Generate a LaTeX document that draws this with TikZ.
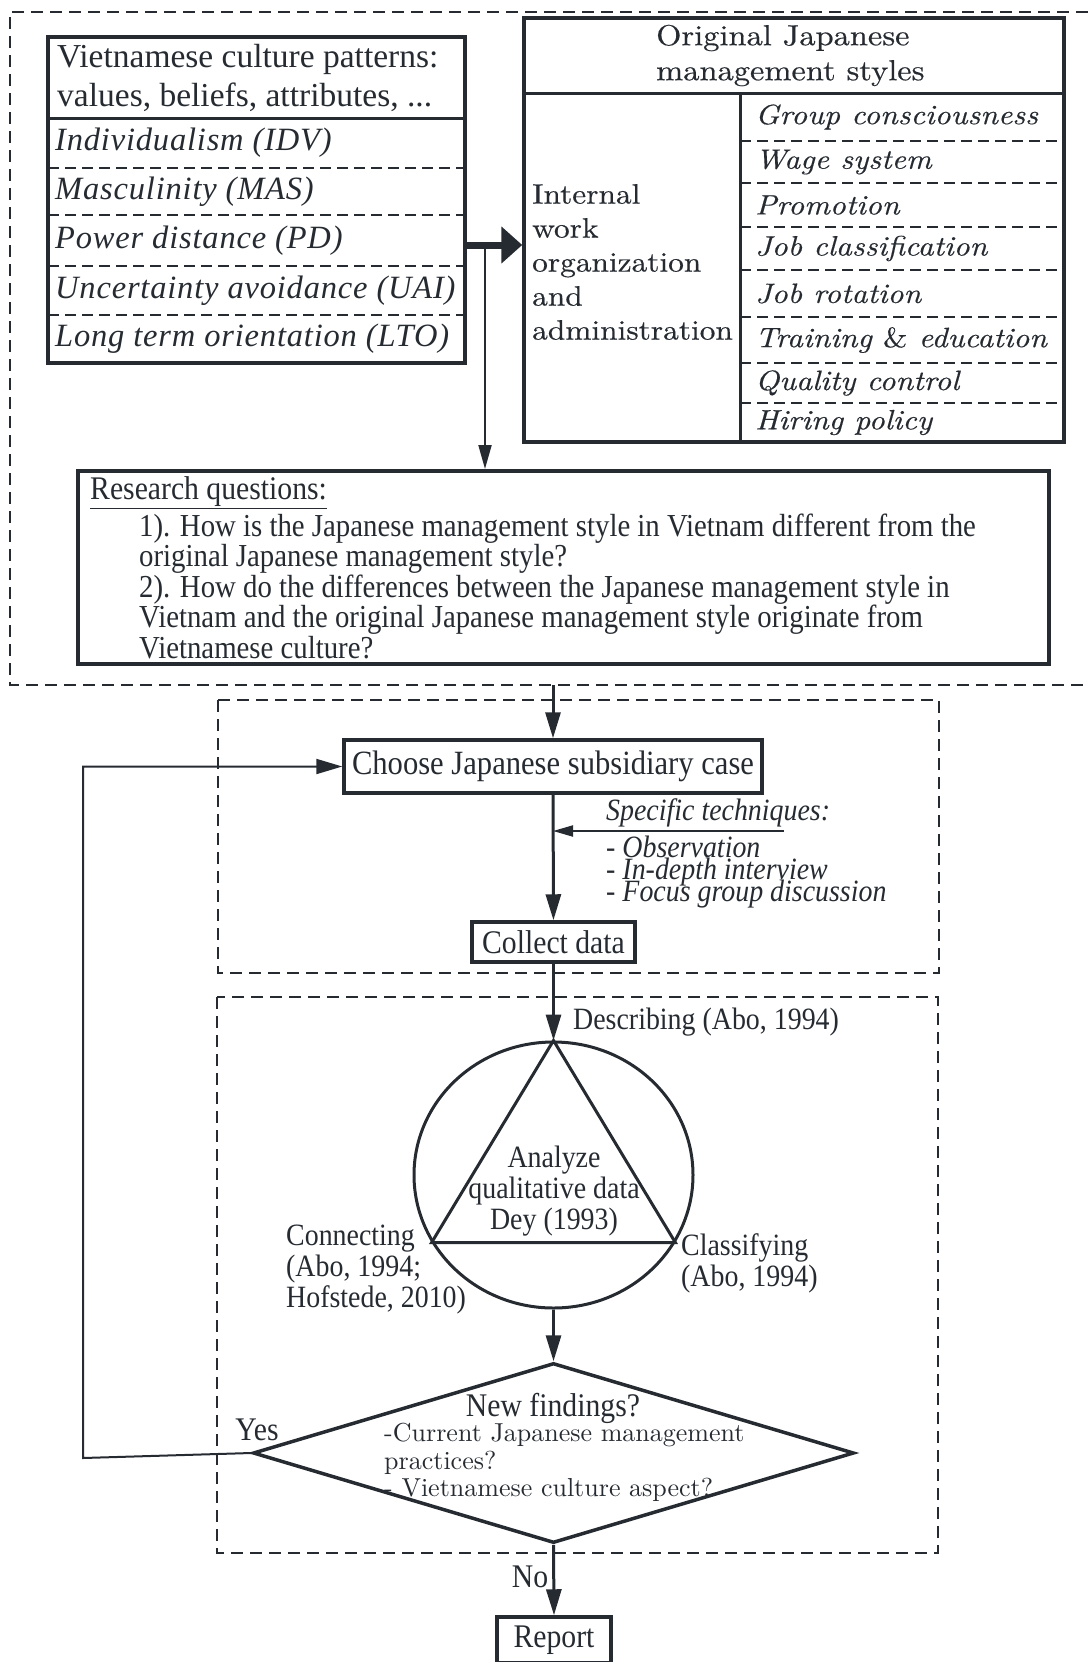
\documentclass[tikz,border=0pt]{standalone}
\usepackage{fontspec}
\setmainfont{Liberation Serif}
\newfontfamily\condfont{Liberation Serif}[FakeStretch=0.9]
\newfontfamily\dimfont{Liberation Serif}[LetterSpace=2.5]
\newfontfamily\jpfont{lmroman10}[Extension=.otf, UprightFont=*-regular, ItalicFont=*-italic, FakeStretch=1.12, FakeBold=0.4]
\newfontfamily\lmfont{lmroman10}[Extension=.otf, UprightFont=*-regular, ItalicFont=*-italic]
\usetikzlibrary{arrows.meta, shapes.geometric}
\definecolor{ink}{HTML}{262B32}
\setlength{\lineskiplimit}{-50pt}

\begin{document}
\begin{tikzpicture}[
    x=1pt, y=-1pt,
    frame/.style={draw=ink, line width=2pt, dash pattern=on 12pt off 7pt},
    box/.style={draw=ink, line width=3.5pt, inner sep=0pt, text=ink},
    rule/.style={draw=ink, line width=3pt},
    cell/.style={draw=ink, line width=2pt, dash pattern=on 11pt off 6pt},
    txt/.style={inner sep=0pt, text=ink, align=left},
    bodytext/.style={font=\condfont\fontsize{33}{36}\selectfont},
    notetext/.style={font=\condfont\fontsize{31}{31}\selectfont},
    arrow/.style={-{Triangle[length=26pt,width=15pt]}, line width=3pt, ink},
    backarrow/.style={-{Triangle[length=26pt,width=15pt]}, line width=2pt, ink},
    smallarrow/.style={-{Triangle[length=20pt,width=11pt]}, line width=2pt, ink},
    thinarrow/.style={-{Triangle[length=24pt,width=13pt]}, line width=2pt, ink},
    fatarrow/.style={-{Triangle[length=21pt,width=36pt]}, line width=7pt, ink}
]
    \useasboundingbox (0,0) rectangle (1088,1662);

    % Frames
    \draw[frame] (1088,12) -- (10,12) -- (10,685) -- (1088,685);
    \draw[frame] (218,700) rectangle (939,973);
    \draw[frame] (217,997) rectangle (938,1553);

    % Vietnamese culture patterns
    \node[box, minimum width=417pt, minimum height=326pt] (cult) at (256.5,200) {};
    \draw[rule] (48,118) -- (465,118);
    \foreach \yy in {168,215,266,315}
        \draw[cell] (48,\yy) -- (465,\yy);
    \node[txt, anchor=west, font=\fontsize{33.5}{39}\selectfont] (culthead) at (57,77.5) {Vietnamese culture patterns:\\values, beliefs, attributes, ...};
    \foreach \yy/\txt [count=\i] in {143/Individualism (IDV), 191.5/Masculinity (MAS), 240.5/Power distance (PD), 290.5/Uncertainty avoidance (UAI), 339/Long term orientation (LTO)}
        \node[txt, anchor=west, font=\dimfont\itshape\fontsize{32.5}{36}\selectfont] (dim\i) at (55,\yy) {\txt};

    % Original Japanese management styles
    \node[box, minimum width=540pt, minimum height=424pt] (jms) at (794,230) {};
    \draw[rule] (524,93) -- (1064,93);
    \draw[rule] (740,93) -- (740,442);
    \foreach \yy in {141,183,227,270,317,363,403}
        \draw[cell] (740,\yy) -- (1064,\yy);
    \node[txt, anchor=west, font=\jpfont\fontsize{29}{35}\selectfont] (jmshead) at (656,55.5) {Original Japanese\\management styles};
    \node[txt, anchor=west, font=\jpfont\fontsize{28}{34}\selectfont] (iwo) at (532,262) {Internal\\work\\organization\\and\\administration};
    \foreach \yy/\txt [count=\i] in {117/Group consciousness, 162/Wage system, 205/Promotion, 248.5/Job classification, 293.5/Job rotation, 340/Training {\upshape\&} education, 383/Quality control, 422.5/Hiring policy}
        \node[txt, anchor=west, font=\jpfont\itshape\fontsize{28}{30}\selectfont] (prac\i) at (755,\yy) {\txt};

    % Research questions
    \node[box, line width=4pt, minimum width=971pt, minimum height=193pt] (rq) at (563.5,567.5) {};
    \node[txt, anchor=west, bodytext] (rqhead) at (90,493) {\underline{Research questions:}};
    \node[txt, anchor=west, font=\condfont\fontsize{32}{30.5}\selectfont] (rqbody) at (139,586) {1). How is the Japanese management style in Vietnam different from the\\original Japanese management style?\\2). How do the differences between the Japanese management style in\\Vietnam and the original Japanese management style originate from\\Vietnamese culture?};

    % Case and data collection
    \node[box, minimum width=418pt, minimum height=53pt, font=\condfont\fontsize{34}{36}\selectfont] (choose) at (553,766.5) {Choose Japanese subsidiary case};
    \node[txt, anchor=west, font=\condfont\itshape\fontsize{31}{34}\selectfont] (tech) at (606,813) {Specific techniques:};
    \node[txt, anchor=west, font=\condfont\itshape\fontsize{31}{22}\selectfont] (techlist) at (606,872) {- Observation\\- In-depth interview\\- Focus group discussion};
    \node[box, minimum width=163pt, minimum height=40pt, bodytext] (collect) at (553.5,942) {Collect data};

    % Analysis
    \node[draw=ink, line width=3pt, ellipse, minimum width=279pt, minimum height=266pt, inner sep=0pt] (circ) at (553.5,1175) {};
    \draw[ink, line width=3pt] (circ.north) -- (circ.209) -- (circ.331) -- cycle;
    \node[txt, align=center, notetext] (analyze) at (554,1191) {Analyze\\qualitative data\\Dey (1993)};
    \node[txt, anchor=west, notetext] (describe) at (573,1022) {Describing (Abo, 1994)};
    \node[txt, anchor=west, notetext] (connect) at (286,1270) {Connecting\\(Abo, 1994;\\Hofstede, 2010)};
    \node[txt, anchor=west, notetext] (classify) at (681,1263) {Classifying\\(Abo, 1994)};

    % Decision and report
    \node[draw=ink, line width=3.5pt, diamond, minimum width=601pt, minimum height=180pt, inner sep=0pt] (decide) at (553.5,1453) {};
    \node[txt, bodytext] (findq) at (553,1408) {New findings?};
    \node[txt, anchor=west, font=\lmfont\fontsize{26}{27.5}\selectfont] (findlist) at (384,1462.5) {-Current Japanese management\\practices?\\- Vietnamese culture aspect?};
    \node[txt, bodytext] (yes) at (257,1430) {Yes};
    \node[txt, bodytext] (no) at (530,1577) {No};
    \node[box, minimum width=114pt, minimum height=46pt, bodytext] (report) at (554,1640) {Report};

    % Arrows
    \coordinate (fork) at (485,245);
    \coordinate (outbot) at (553,685);
    \coordinate (techend) at (784,831);
    \coordinate (yesturn) at (83,1458);
    \coordinate (yestop) at (83,766.5);
    \draw[fatarrow] (cult.east |- fork) -- (jms.west |- fork);
    \draw[thinarrow] (fork) -- (fork |- rq.north);
    \draw[arrow] (outbot) -- (choose.north);
    \draw[arrow] (choose) -- (collect);
    \draw[smallarrow] (techend) -- (techend -| choose.south);
    \draw[arrow] (collect) -- (circ.north);
    \draw[arrow] (circ.south) -- (decide.north);
    \draw[arrow] (decide.south) -- (report.north);
    \draw[backarrow] (decide.west) -- (yesturn) -- (yestop) -- (choose.west);
\end{tikzpicture}
\end{document}
